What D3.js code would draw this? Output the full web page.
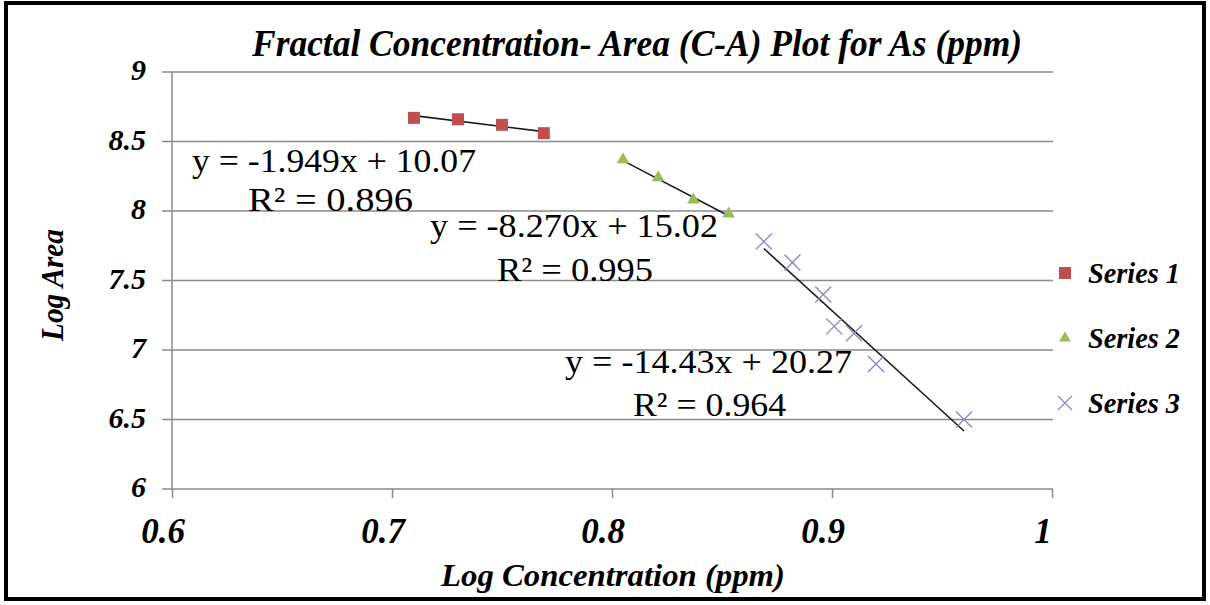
<!DOCTYPE html>
<html>
<head>
<meta charset="utf-8">
<script src="https://cdn.jsdelivr.net/npm/d3@7"></script>
<style>
  html, body { margin: 0; padding: 0; background: #ffffff; }
  svg { display: block; }
  text { font-family: "Liberation Serif", "Times New Roman", serif; fill: #000; }
</style>
</head>
<body>
<svg id="chart" width="1210" height="605"></svg>
<script>
// ---------- data ----------
const titleText = "Fractal Concentration- Area (C-A) Plot for As (ppm)";
const xTitle = "Log Concentration (ppm)";
const yTitle = "Log Area";
const xTicks = [0.6, 0.7, 0.8, 0.9, 1];
const xTickLabels = ["0.6", "0.7", "0.8", "0.9", "1"];
const yTicks = [6, 6.5, 7, 7.5, 8, 8.5, 9];
const yTickLabels = ["6", "6.5", "7", "7.5", "8", "8.5", "9"];
const seriesNames = ["Series 1", "Series 2", "Series 3"];

const s1x = [0.710, 0.730, 0.750, 0.769];
const s1y = [8.67, 8.66, 8.62, 8.56];
const s2x = [0.805, 0.821, 0.837, 0.853];
const s2y = [8.37, 8.24, 8.08, 7.98];
const s3x = [0.869, 0.882, 0.896, 0.901, 0.910, 0.920, 0.960];
const s3y = [7.78, 7.63, 7.40, 7.17, 7.12, 6.90, 6.50];

const slopes = [-1.949, -8.270, -14.43];
const intercepts = [10.07, 15.02, 20.27];
const eqTexts = ["y = -1.949x + 10.07", "y = -8.270x + 15.02", "y = -14.43x + 20.27"];
const r2Texts = ["R\u00B2 = 0.896", "R\u00B2 = 0.995", "R\u00B2 = 0.964"];

// ---------- layout ----------
const colors = ["#C0504D", "#9BBB59", "#9486C0"];
const svg = d3.select("#chart");
const x = d3.scaleLinear().domain([0.6, 1]).range([172, 1052]);
const y = d3.scaleLinear().domain([6, 9]).range([489, 72]);

// frame
svg.append("rect").attr("x", 6).attr("y", 3).attr("width", 1198).attr("height", 596)
  .attr("fill", "#fff").attr("stroke", "#000").attr("stroke-width", 4);

// gridlines
svg.append("g").selectAll("line").data(yTicks).join("line")
  .attr("x1", 162).attr("x2", 1053)
  .attr("y1", d => y(d)).attr("y2", d => y(d))
  .attr("stroke", "#8a8a8a").attr("stroke-width", 1.5);

// y axis line
svg.append("line").attr("x1", x(0.6)).attr("x2", x(0.6)).attr("y1", y(9)).attr("y2", y(6))
  .attr("stroke", "#8a8a8a").attr("stroke-width", 1.5);

// x ticks
const xAxis = d3.axisBottom(x).tickValues(xTicks).tickSize(9).tickFormat(() => "");
const gx = svg.append("g").attr("transform", `translate(0,${y(6)})`).call(xAxis);
gx.select(".domain").remove();
gx.selectAll("line").attr("stroke", "#8a8a8a").attr("stroke-width", 1.5);

// x tick labels
svg.append("g").selectAll("text").data(xTicks).join("text")
  .attr("x", d => x(d) - 9).attr("y", 543)
  .attr("text-anchor", "middle")
  .attr("font-size", 35).attr("font-weight", "bold").attr("font-style", "italic")
  .text((d, i) => xTickLabels[i]);

// y tick labels
svg.append("g").selectAll("text").data(yTicks).join("text")
  .attr("x", 146).attr("y", d => y(d) + 8)
  .attr("text-anchor", "end")
  .attr("font-size", 30).attr("font-weight", "bold").attr("font-style", "italic")
  .text((d, i) => yTickLabels[i]);

// title
svg.append("text").attr("x", 252).attr("y", 56)
  .attr("font-size", 37).attr("font-weight", "bold").attr("font-style", "italic")
  .attr("textLength", 770).attr("lengthAdjust", "spacingAndGlyphs")
  .text(titleText);

// axis titles
svg.append("text").attr("x", 441).attr("y", 586)
  .attr("font-size", 31).attr("font-weight", "bold").attr("font-style", "italic")
  .attr("textLength", 344).attr("lengthAdjust", "spacingAndGlyphs")
  .text(xTitle);
svg.append("text").attr("transform", "translate(63,285) rotate(-90)")
  .attr("text-anchor", "middle")
  .attr("font-size", 31).attr("font-weight", "bold").attr("font-style", "italic")
  .attr("textLength", 112).attr("lengthAdjust", "spacingAndGlyphs")
  .text(yTitle);

// trendlines
const sx = [s1x, s2x, s3x];
sx.forEach((xs, i) => {
  const x0 = d3.min(xs), x1 = d3.max(xs);
  svg.append("line")
    .attr("x1", x(x0)).attr("y1", y(slopes[i] * x0 + intercepts[i]))
    .attr("x2", x(x1)).attr("y2", y(slopes[i] * x1 + intercepts[i]))
    .attr("stroke", "#1a1a1a").attr("stroke-width", 1.6);
});

// markers
const s1 = s1x.map((v, i) => [v, s1y[i]]);
const s2 = s2x.map((v, i) => [v, s2y[i]]);
const s3 = s3x.map((v, i) => [v, s3y[i]]);

svg.append("g").selectAll("rect").data(s1).join("rect")
  .attr("x", d => x(d[0]) - 6).attr("y", d => y(d[1]) - 6)
  .attr("width", 12).attr("height", 12).attr("fill", colors[0]);

svg.append("g").selectAll("path").data(s2).join("path")
  .attr("d", d3.symbol().type(d3.symbolTriangle).size(70))
  .attr("transform", d => `translate(${x(d[0])},${y(d[1])})`)
  .attr("fill", colors[1]);

svg.append("g").selectAll("path").data(s3).join("path")
  .attr("d", "M-8,-8L8,8M-8,8L8,-8")
  .attr("transform", d => `translate(${x(d[0])},${y(d[1])})`)
  .attr("fill", "none").attr("stroke", colors[2]).attr("stroke-width", 1.4);

// equation labels
const eqPos = [[192, 172, 284], [430, 237, 288], [565, 373, 287]];
const r2Pos = [[248, 211, 165], [497, 281, 156], [633, 416, 153]];
eqTexts.forEach((t, i) => {
  svg.append("text").attr("x", eqPos[i][0]).attr("y", eqPos[i][1])
    .attr("font-size", 33).attr("textLength", eqPos[i][2]).attr("lengthAdjust", "spacingAndGlyphs")
    .text(t);
  svg.append("text").attr("x", r2Pos[i][0]).attr("y", r2Pos[i][1])
    .attr("font-size", 33).attr("textLength", r2Pos[i][2]).attr("lengthAdjust", "spacingAndGlyphs")
    .text(r2Texts[i]);
});

// legend
const legY = [273, 338, 403];
const lg = svg.append("g");
lg.append("rect").attr("x", 1059).attr("y", legY[0] - 6).attr("width", 12).attr("height", 12).attr("fill", colors[0]);
lg.append("path").attr("d", d3.symbol().type(d3.symbolTriangle).size(60)).attr("transform", `translate(1065,${legY[1]})`).attr("fill", colors[1]);
lg.append("path").attr("d", "M-7,-7L7,7M-7,7L7,-7").attr("transform", `translate(1065,${legY[2]})`)
  .attr("fill", "none").attr("stroke", colors[2]).attr("stroke-width", 1.3);
lg.selectAll("text").data(seriesNames).join("text")
  .attr("x", 1088).attr("y", (d, i) => legY[i] + 10)
  .attr("font-size", 29).attr("font-weight", "bold").attr("font-style", "italic")
  .attr("textLength", 92).attr("lengthAdjust", "spacingAndGlyphs")
  .text(d => d);
</script>
</body>
</html>
